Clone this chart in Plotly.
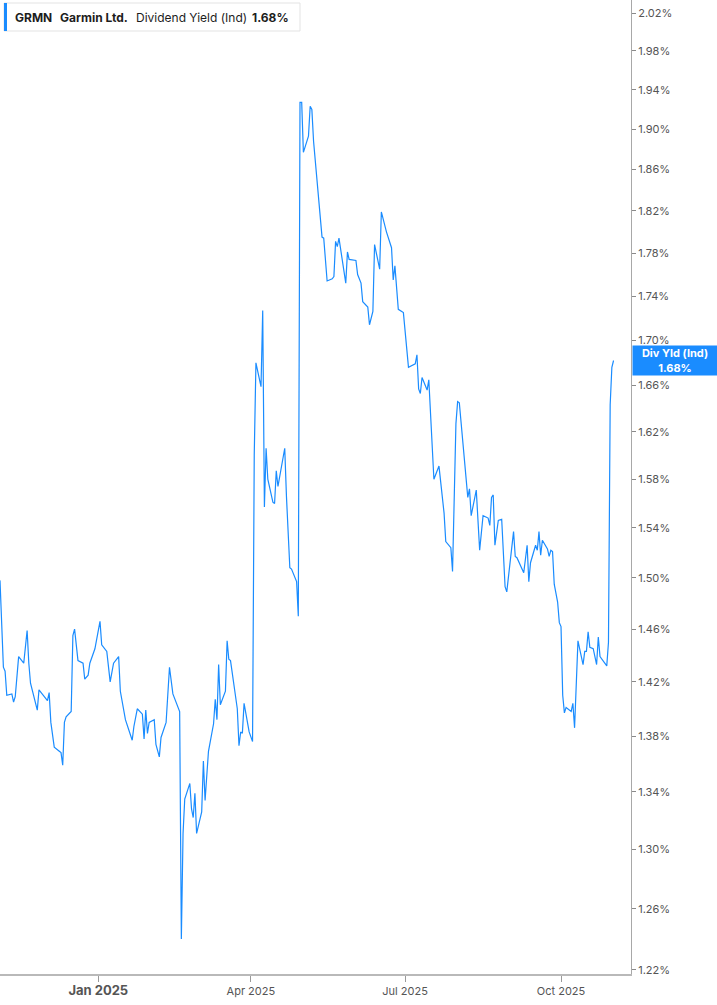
import numpy as np
import plotly.graph_objects as go

dates = [
    "2024-11-04", "2024-11-06", "2024-11-07", "2024-11-08", "2024-11-11", "2024-11-12", "2024-11-13",
    "2024-11-15", "2024-11-18", "2024-11-20", "2024-11-21", "2024-11-22", "2024-11-26", "2024-11-27",
    "2024-12-02", "2024-12-03", "2024-12-04", "2024-12-06", "2024-12-09", "2024-12-10", "2024-12-11",
    "2024-12-12", "2024-12-13", "2024-12-16", "2024-12-17", "2024-12-18", "2024-12-20", "2024-12-23",
    "2024-12-24", "2024-12-26", "2024-12-27", "2024-12-30", "2025-01-02", "2025-01-03", "2025-01-06",
    "2025-01-08", "2025-01-10", "2025-01-13", "2025-01-14", "2025-01-17", "2025-01-21", "2025-01-22",
    "2025-01-24", "2025-01-27", "2025-01-28", "2025-01-29", "2025-01-30", "2025-01-31", "2025-02-03",
    "2025-02-04", "2025-02-06", "2025-02-07", "2025-02-10", "2025-02-12", "2025-02-14", "2025-02-18",
    "2025-02-19", "2025-02-20", "2025-02-21", "2025-02-24", "2025-02-25", "2025-02-26", "2025-02-27",
    "2025-02-28", "2025-03-03", "2025-03-04", "2025-03-05", "2025-03-07", "2025-03-10", "2025-03-11",
    "2025-03-12", "2025-03-13", "2025-03-14", "2025-03-17", "2025-03-18", "2025-03-19", "2025-03-20",
    "2025-03-24", "2025-03-25", "2025-03-26", "2025-03-27", "2025-03-28", "2025-03-31", "2025-04-02",
    "2025-04-03", "2025-04-04", "2025-04-07", "2025-04-08", "2025-04-09", "2025-04-10", "2025-04-11",
    "2025-04-14", "2025-04-15", "2025-04-16", "2025-04-17", "2025-04-21", "2025-04-22", "2025-04-23",
    "2025-04-24", "2025-04-25", "2025-04-28", "2025-04-29", "2025-04-30", "2025-05-01", "2025-05-02",
    "2025-05-05", "2025-05-06", "2025-05-07", "2025-05-08", "2025-05-13", "2025-05-14", "2025-05-16",
    "2025-05-19", "2025-05-20", "2025-05-21", "2025-05-22", "2025-05-23", "2025-05-27", "2025-05-28",
    "2025-05-29", "2025-06-02", "2025-06-03", "2025-06-05", "2025-06-06", "2025-06-09", "2025-06-10",
    "2025-06-12", "2025-06-13", "2025-06-16", "2025-06-17", "2025-06-20", "2025-06-23", "2025-06-24",
    "2025-06-25", "2025-06-27", "2025-06-30", "2025-07-03", "2025-07-07", "2025-07-08", "2025-07-09",
    "2025-07-10", "2025-07-11", "2025-07-14", "2025-07-15", "2025-07-18", "2025-07-21", "2025-07-24",
    "2025-07-25", "2025-07-28", "2025-07-29", "2025-07-31", "2025-08-01", "2025-08-02", "2025-08-07",
    "2025-08-08", "2025-08-09", "2025-08-12", "2025-08-14", "2025-08-16", "2025-08-19", "2025-08-20",
    "2025-08-21", "2025-08-22", "2025-08-23", "2025-08-25", "2025-08-27", "2025-08-29", "2025-08-30",
    "2025-09-03", "2025-09-04", "2025-09-05", "2025-09-09", "2025-09-11", "2025-09-12", "2025-09-13",
    "2025-09-16", "2025-09-17", "2025-09-18", "2025-09-19", "2025-09-20", "2025-09-23", "2025-09-24",
    "2025-09-25", "2025-09-26", "2025-09-27", "2025-09-29", "2025-09-30", "2025-10-01", "2025-10-02",
    "2025-10-03", "2025-10-04", "2025-10-07", "2025-10-08", "2025-10-09", "2025-10-11", "2025-10-14",
    "2025-10-15", "2025-10-16", "2025-10-17", "2025-10-18", "2025-10-20", "2025-10-22", "2025-10-23",
    "2025-10-24", "2025-10-28", "2025-10-29", "2025-10-30", "2025-10-31", "2025-11-01",
]

div_yield = [
    1.498, 1.431, 1.428, 1.410, 1.411, 1.405, 1.409,
    1.439, 1.434, 1.459, 1.434, 1.419, 1.399, 1.414,
    1.406, 1.412, 1.390, 1.372, 1.369, 1.368, 1.359,
    1.390, 1.394, 1.398, 1.455, 1.460, 1.436, 1.434,
    1.422, 1.425, 1.434, 1.445, 1.466, 1.448, 1.443,
    1.420, 1.434, 1.439, 1.413, 1.392, 1.377, 1.387,
    1.400, 1.396, 1.378, 1.399, 1.382, 1.390, 1.392,
    1.374, 1.365, 1.379, 1.390, 1.431, 1.411, 1.398,
    1.240, 1.311, 1.335, 1.346, 1.328, 1.322, 1.339,
    1.311, 1.326, 1.362, 1.334, 1.369, 1.389, 1.407,
    1.392, 1.433, 1.403, 1.413, 1.451, 1.437, 1.436,
    1.400, 1.373, 1.383, 1.382, 1.404, 1.383, 1.376,
    1.600, 1.680, 1.659, 1.727, 1.557, 1.606, 1.580,
    1.561, 1.560, 1.587, 1.574, 1.606, 1.566, 1.539,
    1.508, 1.507, 1.497, 1.470, 1.927, 1.927, 1.877,
    1.893, 1.923, 1.920, 1.888, 1.795, 1.794, 1.754,
    1.756, 1.758, 1.791, 1.786, 1.794, 1.752, 1.781,
    1.774, 1.773, 1.760, 1.752, 1.735, 1.730, 1.714,
    1.726, 1.788, 1.765, 1.819, 1.800, 1.785, 1.755,
    1.768, 1.728, 1.725, 1.676, 1.679, 1.687, 1.657,
    1.653, 1.667, 1.656, 1.665, 1.580, 1.591, 1.552,
    1.529, 1.524, 1.505, 1.627, 1.646, 1.645, 1.565,
    1.572, 1.550, 1.571, 1.522, 1.550, 1.548, 1.542,
    1.565, 1.567, 1.526, 1.546, 1.547, 1.493, 1.489,
    1.537, 1.517, 1.516, 1.504, 1.526, 1.497, 1.512,
    1.526, 1.522, 1.537, 1.518, 1.530, 1.523, 1.517,
    1.522, 1.521, 1.495, 1.481, 1.465, 1.462, 1.410,
    1.397, 1.401, 1.398, 1.404, 1.386, 1.451, 1.433,
    1.443, 1.443, 1.458, 1.446, 1.445, 1.433, 1.454,
    1.439, 1.432, 1.450, 1.643, 1.676, 1.682,
]

y_ticks = [1.22, 1.26, 1.30, 1.34, 1.38, 1.42, 1.46, 1.50, 1.54, 1.58, 1.62,
           1.66, 1.70, 1.74, 1.78, 1.82, 1.86, 1.90, 1.94, 1.98, 2.02]
y_tick_labels = [f"{v:.2f}%" for v in y_ticks]

x_ticks = ["2025-01-01", "2025-04-01", "2025-07-01", "2025-10-01"]
x_tick_labels = ['<span style="font-size:13px"><b>Jan 2025</b></span>',
                 "Apr 2025", "Jul 2025", "Oct 2025"]

ticker = "GRMN"
company = "Garmin Ltd."
metric = "Dividend Yield (Ind)"
last_label = "Div Yld (Ind)"

W, H = 717, 1005
ML, MR, MT, MB = 0, 86, 0, 31
PW, PH = W - ML - MR, H - MT - MB

LINE = "#1a8cff"
FONT = "Inter"

last_val = div_yield[-1]

fig = go.Figure()
fig.add_trace(go.Scatter(
    x=dates, y=div_yield, mode="lines",
    line=dict(color=LINE, width=1.2),
    hoverinfo="x+y", showlegend=False,
))


def px(x):
    return x / PW


def py(y):
    return 1 - y / PH


shapes = [
    dict(type="rect", xref="paper", yref="paper",
         x0=px(4), x1=px(300), y0=py(31), y1=py(3),
         line=dict(color="#e3e3e3", width=1), fillcolor="white", layer="above"),
    dict(type="rect", xref="paper", yref="paper",
         x0=px(4), x1=px(7), y0=py(31), y1=py(3),
         line=dict(width=0), fillcolor=LINE, layer="above"),
]

header_items = [
    (13, f"<b>{ticker}</b>"),
    (58, f"<b>{company}</b>"),
    (134, metric),
    (250, f"<b>{last_val:.2f}%</b>"),
]
annotations = []
for xpos, txt in header_items:
    annotations.append(dict(
        xref="paper", yref="paper", x=px(xpos), y=py(17),
        xanchor="left", yanchor="middle", showarrow=False,
        text=txt, font=dict(family=FONT, size=12, color="#1d1d1d"),
    ))

annotations.append(dict(
    xref="paper", yref="y", x=1, y=np.log10(last_val),
    xanchor="left", yanchor="middle", xshift=1, showarrow=False,
    text=f"<b>{last_label}</b><br><b>{last_val:.2f}%</b>",
    font=dict(family=FONT, size=11, color="white"),
    bgcolor=LINE, width=82, height=27, borderpad=1, align="center",
))

fig.update_layout(
    width=W, height=H, autosize=False,
    margin=dict(l=ML, r=MR, t=MT, b=MB),
    paper_bgcolor="white", plot_bgcolor="white",
    font=dict(family=FONT, size=11, color="#444"),
    shapes=shapes, annotations=annotations,
    xaxis=dict(
        range=["2024-11-04 00:00", "2025-11-11 07:00"],
        tickvals=x_ticks, ticktext=x_tick_labels,
        showgrid=False, zeroline=False,
        showline=True, linecolor="#b9b9b9", linewidth=2,
        ticks="outside", ticklen=6, tickcolor="#9a9a9a", tickwidth=1,
        tickfont=dict(family=FONT, size=11, color="#555"),
        fixedrange=True,
    ),
    yaxis=dict(
        type="log", side="right",
        range=[np.log10(1.2174), np.log10(2.0339)],
        tickvals=y_ticks, ticktext=y_tick_labels,
        showgrid=False, zeroline=False,
        showline=True, linecolor="#a8a8a8", linewidth=1,
        ticks="outside", ticklen=4, tickcolor="#8a8a8a",
        tickfont=dict(family=FONT, size=11, color="#555"),
        fixedrange=True,
    ),
)

fig.write_html(
    "out.html",
    config={"displayModeBar": False},
    post_script="document.body.style.margin='0';document.body.style.overflow='hidden';",
)
